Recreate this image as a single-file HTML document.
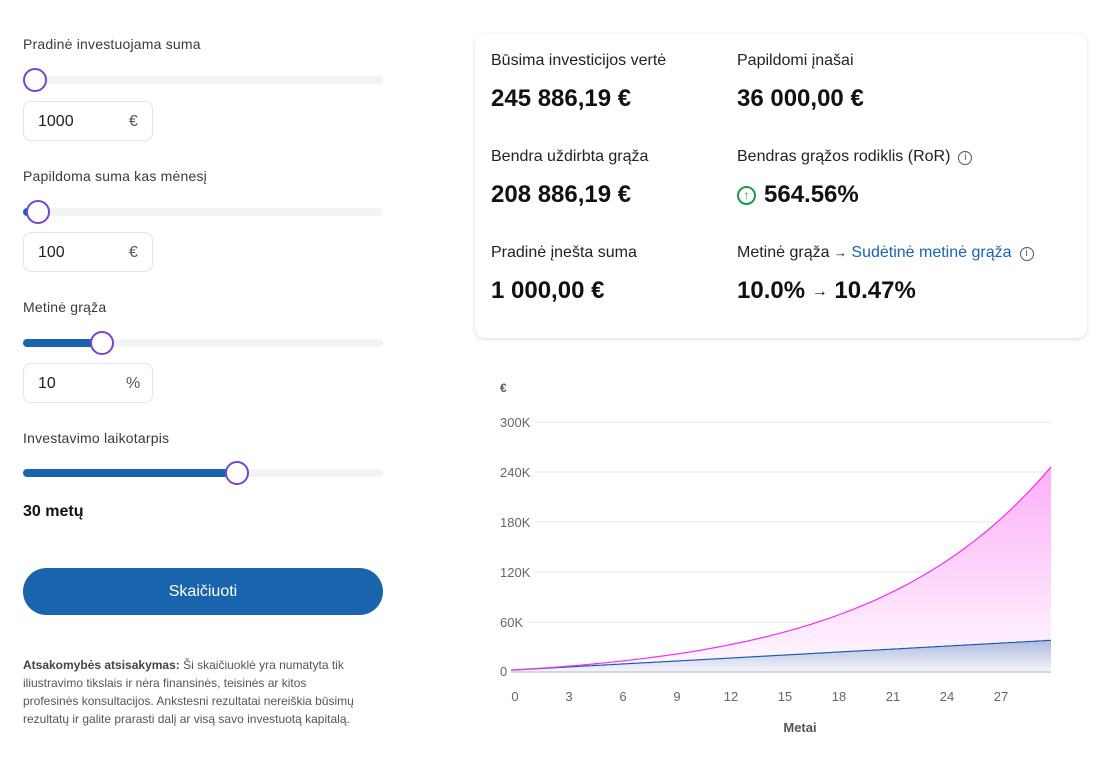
<!DOCTYPE html>
<html><head><meta charset="utf-8">
<style>
*{box-sizing:border-box;margin:0;padding:0}
body{width:1103px;height:757px;background:#fff;font-family:"Liberation Sans",sans-serif;color:#222;position:relative;overflow:hidden}
.a{position:absolute}
.lbl{font-size:14px;color:#3a3a3a;font-weight:normal;letter-spacing:0.2px}
.track{position:absolute;left:23px;width:360px;height:8px;border-radius:4px;background:#f3f3f3}
.fill{position:absolute;left:0;top:0;height:8px;border-radius:4px;background:#1a64ae}
.thumb{position:absolute;width:24px;height:24px;border-radius:50%;border:2px solid #7048d0;background:#fff;top:-8px}
.inp{position:absolute;left:23px;width:130px;height:40px;border:1px solid #e2e0fb;border-radius:8px;font-size:16px;color:#222}
.inp span{position:absolute;top:11px}
.card{position:absolute;left:475px;top:34px;width:612px;height:304px;border-radius:10px;background:#fff;box-shadow:0 1px 5px rgba(0,0,0,0.15)}
.t{position:absolute;font-size:16px;color:#222}
.v{position:absolute;font-size:24px;font-weight:bold;color:#111}
.ar{font-size:16px;display:inline-block;vertical-align:2px}
.info{display:inline-block;width:14px;height:14px;border:1px solid #555;border-radius:50%;font-size:10px;text-align:center;line-height:12px;vertical-align:1px;margin-left:8px;color:#555}
</style></head><body>

<div class="a lbl" style="left:23px;top:36px">Pradinė investuojama suma</div>
<div class="track" style="top:76px"><div class="thumb" style="left:0px"></div></div>
<div class="inp" style="top:101px"><span style="left:14px">1000</span><span style="left:105px;color:#555">€</span></div>

<div class="a lbl" style="left:23px;top:168px">Papildoma suma kas mėnesį</div>
<div class="track" style="top:208px"><div class="fill" style="width:10px"></div><div class="thumb" style="left:3px"></div></div>
<div class="inp" style="top:232px"><span style="left:14px">100</span><span style="left:105px;color:#555">€</span></div>

<div class="a lbl" style="left:23px;top:299px">Metinė grąža</div>
<div class="track" style="top:339px"><div class="fill" style="width:80px"></div><div class="thumb" style="left:67px"></div></div>
<div class="inp" style="top:363px"><span style="left:14px">10</span><span style="left:102px;color:#555">%</span></div>

<div class="a lbl" style="left:23px;top:430px">Investavimo laikotarpis</div>
<div class="track" style="top:469px"><div class="fill" style="width:212px"></div><div class="thumb" style="left:202px"></div></div>
<div class="a" style="left:23px;top:503px;font-size:16px;font-weight:bold;color:#111">30 metų</div>

<div class="a" style="left:23px;top:568px;width:360px;height:47px;border-radius:24px;background:#1a64ae;color:#fff;font-size:16px;text-align:center;line-height:47px">Skaičiuoti</div>

<div class="a" style="left:23px;top:656px;width:335px;font-size:12px;line-height:18px;color:#555"><b style="color:#444">Atsakomybės atsisakymas:</b> Ši skaičiuoklė yra numatyta tik iliustravimo tikslais ir nėra finansinės, teisinės ar kitos profesinės konsultacijos. Ankstesni rezultatai nereiškia būsimų rezultatų ir galite prarasti dalį ar visą savo investuotą kapitalą.</div>

<div class="card">
 <div class="t" style="left:16px;top:18px">Būsima investicijos vertė</div>
 <div class="v" style="left:16px;top:51px">245 886,19 €</div>
 <div class="t" style="left:262px;top:18px">Papildomi įnašai</div>
 <div class="v" style="left:262px;top:51px">36 000,00 €</div>
 <div class="t" style="left:16px;top:114px">Bendra uždirbta grąža</div>
 <div class="v" style="left:16px;top:147px">208 886,19 €</div>
 <div class="t" style="left:262px;top:114px">Bendras grąžos rodiklis (RoR)<span class="info">i</span></div>
 <div class="v" style="left:262px;top:147px"><span style="display:inline-block;width:19px;height:19px;border:2px solid #1a9a4a;border-radius:50%;color:#1a9a4a;font-size:12px;line-height:15px;text-align:center;vertical-align:3px;margin-right:8px">↑</span>564.56%</div>
 <div class="t" style="left:16px;top:210px">Pradinė įnešta suma</div>
 <div class="v" style="left:16px;top:243px">1 000,00 €</div>
 <div class="t" style="left:262px;top:210px">Metinė grąža <span style="font-size:13px">→</span> <span style="color:#1a64ae">Sudėtinė metinė grąža</span><span class="info">i</span></div>
 <div class="v" style="left:262px;top:243px">10.0% <span class="ar">→</span> 10.47%</div>
</div>

<svg class="a" style="left:0;top:0" width="1103" height="757">
 <defs>
  <linearGradient id="gp" x1="0" y1="0" x2="0" y2="1"><stop offset="0" stop-color="#fbb0f8"/><stop offset="1" stop-color="#fff8fe"/></linearGradient>
  <linearGradient id="gb" x1="0" y1="0" x2="0" y2="1"><stop offset="0" stop-color="#aebbe0"/><stop offset="1" stop-color="#f3f4fa"/></linearGradient>
 </defs>
 <g font-family="Liberation Sans, sans-serif" font-size="13" fill="#666">
  <text x="500" y="392" font-size="12" font-weight="bold" fill="#555">€</text>
  <text x="500" y="427">300K</text><line x1="535" y1="422" x2="1051" y2="422" stroke="#f2f2f2" stroke-width="2"/>
  <text x="500" y="477">240K</text><line x1="535" y1="472" x2="1051" y2="472" stroke="#f2f2f2" stroke-width="2"/>
  <text x="500" y="527">180K</text><line x1="535" y1="522" x2="1051" y2="522" stroke="#f2f2f2" stroke-width="2"/>
  <text x="500" y="577">120K</text><line x1="535" y1="572" x2="1051" y2="572" stroke="#f2f2f2" stroke-width="2"/>
  <text x="500" y="627">60K</text><line x1="527" y1="622" x2="1051" y2="622" stroke="#f2f2f2" stroke-width="2"/>
  <text x="500" y="676">0</text>
  <g text-anchor="middle" id="xl"></g>
  <text x="800" y="732" text-anchor="middle" font-weight="bold" fill="#555">Metai</text>
 </g>
 <path id="pf" fill="url(#gp)"/>
 <path id="bf" fill="url(#gb)"/>
 <line x1="511" y1="672" x2="1051" y2="672" stroke="#d6d6d6" stroke-width="2"/>
 <path id="bl" fill="none" stroke="#1a5bb0" stroke-width="1.2"/>
 <path id="pl" fill="none" stroke="#f030f0" stroke-width="1.2"/>
</svg>
<script>
(function(){
 var X=function(t){return 511+18*t},Y=function(v){return 671-v*249/300000};
 var r=0.1/12,p=[],b=[];
 for(var m=0;m<=360;m+=3){var t=m/12,g=Math.pow(1+r,m);
  var fv=1000*g+100*(g-1)/r, c=1000+100*m;
  p.push(X(t).toFixed(1)+","+Y(fv).toFixed(1));b.push(X(t).toFixed(1)+","+Y(c).toFixed(1));}
 var pl="M"+p.join(" L"),bl="M"+b.join(" L");
 document.getElementById('pl').setAttribute('d',pl);
 document.getElementById('bl').setAttribute('d',bl);
 document.getElementById('pf').setAttribute('d',pl+" L"+b.slice().reverse().join(" L")+"Z");
 document.getElementById('bf').setAttribute('d',bl+" L1051,671 L511,671Z");
 var xl=document.getElementById('xl'),s="";
 for(var i=0;i<=27;i+=3){s+='<text x="'+(515+18*i)+'" y="701">'+i+'</text>';}
 xl.innerHTML=s;
})();
</script>
</body></html>
